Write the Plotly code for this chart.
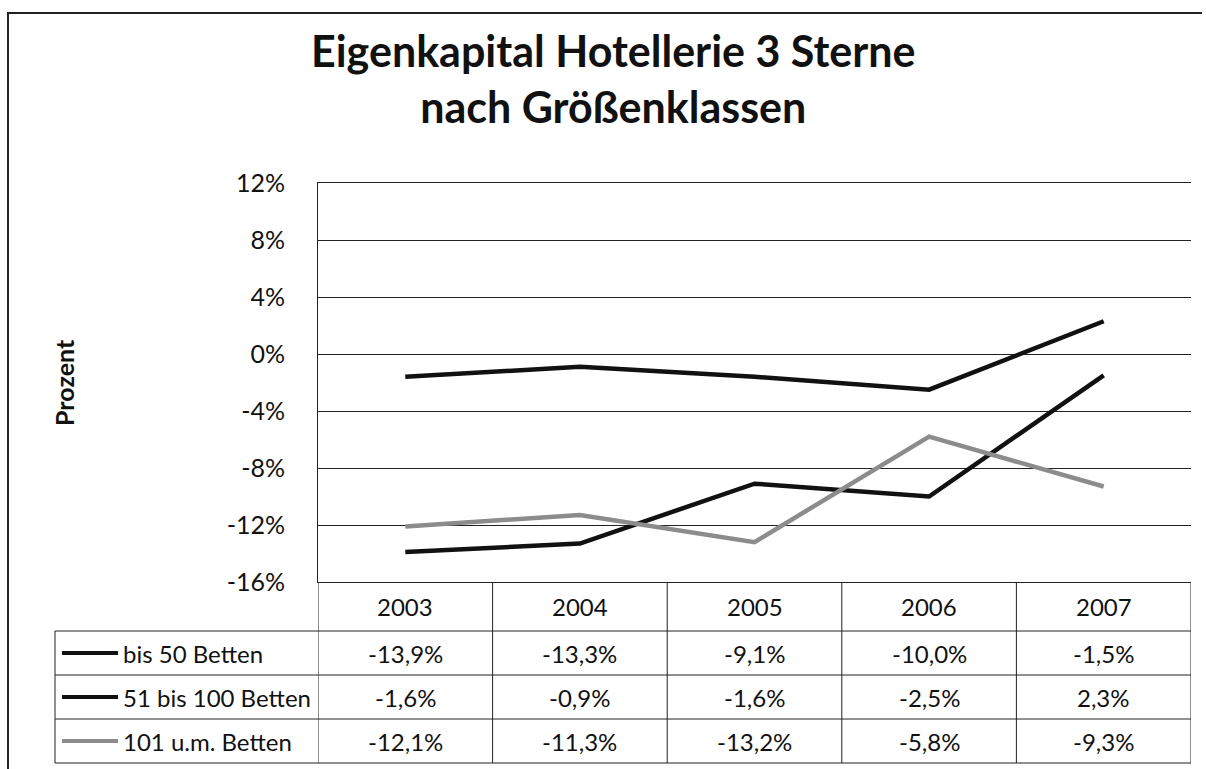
import plotly.graph_objects as go

# ---- data ----
years = ["2003", "2004", "2005", "2006", "2007"]
series_names = ["bis 50 Betten", "51 bis 100 Betten", "101 u.m. Betten"]
bis50 = [-13.9, -13.3, -9.1, -10.0, -1.5]
bis100 = [-1.6, -0.9, -1.6, -2.5, 2.3]
ab101 = [-12.1, -11.3, -13.2, -5.8, -9.3]
tick_vals = [12, 8, 4, 0, -4, -8, -12, -16]
tick_text = ["12%", "8%", "4%", "0%", "-4%", "-8%", "-12%", "-16%"]

values = [bis50, bis100, ab101]
colors = ["#111111", "#111111", "#8c8c8c"]

# ---- layout geometry (pixels) ----
W, H = 1206, 769
L, R, T, B = 318, 1191, 183, 582   # plot area
pw, ph = R - L, B - T

def px_x(x):
    return (x - L) / pw

def px_y(y):
    return (B - y) / ph

FONT = "Lato"
TXT = 24
fig = go.Figure()
for name, vals, col in zip(series_names, values, colors):
    fig.add_trace(go.Scatter(x=list(range(len(years))), y=vals, mode="lines", name=name,
                             line=dict(color=col, width=4.5), showlegend=False))

shapes = []
annotations = []

# table geometry
row_lines = [631, 675, 719, 763]
row_centers = [653, 697, 741]
leg_left = 55

for y in row_lines:
    shapes.append(dict(type="line", xref="paper", yref="paper",
                       x0=px_x(leg_left), x1=1.0, y0=px_y(y), y1=px_y(y),
                       line=dict(color="#222", width=1)))
for i in range(len(years) + 1):
    shapes.append(dict(type="line", xref="x", yref="paper",
                       x0=i - 0.5, x1=i - 0.5, y0=0, y1=px_y(row_lines[-1]),
                       line=dict(color="#222", width=1)))
shapes.append(dict(type="line", xref="paper", yref="paper",
                   x0=px_x(leg_left), x1=px_x(leg_left),
                   y0=px_y(row_lines[0]), y1=px_y(row_lines[-1]),
                   line=dict(color="#222", width=1)))
# outer chart border (top & left only) as one open path
xa, xb = px_x(8), px_x(1202)
ya, yb = px_y(13), px_y(H + 10)
shapes.append(dict(type="path", xref="paper", yref="paper",
                   path=f"M {xb},{ya} L {xa},{ya} L {xa},{yb}",
                   line=dict(color="#222", width=2)))

# year header
for i, yr in enumerate(years):
    annotations.append(dict(x=i, xref="x", y=px_y(606), yref="paper",
                            text=yr, showarrow=False,
                            font=dict(family=FONT, size=TXT, color="#111"),
                            xanchor="center", yanchor="middle"))

# rows
for name, vals, col, yc in zip(series_names, values, colors, row_centers):
    shapes.append(dict(type="line", xref="paper", yref="paper",
                       x0=px_x(62), x1=px_x(118), y0=px_y(yc), y1=px_y(yc),
                       line=dict(color=col, width=4)))
    annotations.append(dict(x=px_x(121), xref="paper", y=px_y(yc), yref="paper",
                            text=name, showarrow=False,
                            font=dict(family=FONT, size=TXT, color="#111"),
                            xanchor="left", yanchor="middle"))
    for i, v in enumerate(vals):
        txt = f"{v:.1f}".replace(".", ",") + "%"
        annotations.append(dict(x=i, xref="x", y=px_y(yc), yref="paper",
                                text=txt, showarrow=False,
                                font=dict(family=FONT, size=TXT, color="#111"),
                                xanchor="center", yanchor="middle"))

# title (single text, two lines)
annotations.append(dict(x=px_x(613), xref="paper", y=px_y(78), yref="paper",
                        text="<b>Eigenkapital Hotellerie 3 Sterne<br>nach Größenklassen</b>",
                        showarrow=False, align="center",
                        font=dict(family=FONT, size=43, color="#111"),
                        xanchor="center", yanchor="middle"))
# y axis title
annotations.append(dict(x=px_x(64), xref="paper", y=px_y(382), yref="paper",
                        text="<b>Prozent</b>", showarrow=False, textangle=-90,
                        font=dict(family=FONT, size=25, color="#111"),
                        xanchor="center", yanchor="middle"))

fig.update_layout(
    width=W, height=H,
    margin=dict(l=L, r=W - R, t=T, b=H - B),
    paper_bgcolor="white", plot_bgcolor="white",
    shapes=shapes, annotations=annotations,
    xaxis=dict(range=[-0.5, len(years) - 0.5],
               showticklabels=False, showgrid=False, zeroline=False,
               showline=True, mirror=True, linecolor="#222", linewidth=1, ticks=""),
    yaxis=dict(range=[-16, 12], tickvals=tick_vals, ticktext=tick_text,
               showgrid=True, gridcolor="#222", gridwidth=1, zeroline=False,
               showline=True, linecolor="#222", linewidth=1, ticks="",
               ticklabelstandoff=27,
               tickfont=dict(family=FONT, size=25, color="#111")),
)

fig.write_html("out.html")
